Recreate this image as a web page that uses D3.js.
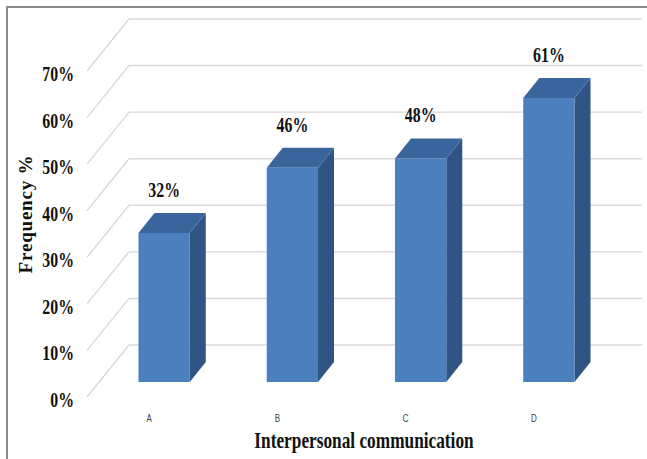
<!DOCTYPE html>
<html>
<head>
<meta charset="utf-8">
<script src="https://cdn.jsdelivr.net/npm/d3@7"></script>
<style>
  html, body { margin: 0; padding: 0; background: #fff; }
  svg { display: block; }
  .serif { font-family: "Liberation Serif", "Times New Roman", serif; font-weight: bold; fill: #111; }
</style>
</head>
<body>
<svg id="chart" width="647" height="459"></svg>
<script>
// Chart data
const categories = ["A", "B", "C", "D"];
const values = [32, 46, 48, 61];          // frequency, %
const tickValues = [0, 10, 20, 30, 40, 50, 60, 70];
const tickLabels = tickValues.map(v => v + "%");
const yTitle = "Frequency %";
const xTitle = "Interpersonal communication";

const svg = d3.select("#chart");
const W = 647, H = 459;

// 3-D layout: back wall plane, bar plane, and side-wall depth
const yBack = d3.scaleLinear().domain([0, 70]).range([345, 19]);
const yBar = d3.scaleLinear().domain([0, 70]).range([382, 56]);
const x = d3.scaleBand().domain(categories).range([100, 613]).paddingInner(0.6).paddingOuter(0.3);
const wallFront = 87, wallBack = 129, wallDrop = 52;
const depthX = 16, depthY = -20;
const squeeze = 0.72;

// Frame
svg.append("path")
  .attr("d", `M7,${H} L7,7 L${W},7`)
  .attr("fill", "none").attr("stroke", "#8a8a8a").attr("stroke-width", 2);

// Gridlines: side-wall diagonals and back-wall horizontals
const grid = svg.append("g").attr("stroke", "#d9d9d9").attr("stroke-width", 1.4).attr("fill", "none");
grid.selectAll("path").data(tickValues).join("path")
  .attr("d", d => `M${wallFront},${yBack(d) + wallDrop} L${wallBack},${yBack(d)} L642,${yBack(d)}`);

// Y tick labels
svg.append("g").selectAll("text").data(tickValues).join("text")
  .attr("class", "serif")
  .attr("font-size", 22)
  .attr("text-anchor", "end")
  .attr("transform", d => `translate(74,${yBack(d) + wallDrop + 10}) scale(${squeeze},1)`)
  .text((d, i) => tickLabels[i]);

// Y axis title
svg.append("text")
  .attr("class", "serif")
  .attr("font-size", 19)
  .attr("letter-spacing", 0.8)
  .attr("text-anchor", "middle")
  .attr("transform", "translate(32,214) rotate(-90)")
  .text(yTitle);

// Bars: front, side and top faces
const bars = svg.append("g").selectAll("g").data(values).join("g");
bars.append("path") // side face
  .attr("fill", "#2f5585")
  .attr("d", (v, i) => {
    const x1 = x(categories[i]) + x.bandwidth(), y0 = yBar(0), y1 = yBar(v);
    return `M${x1},${y0} L${x1},${y1} L${x1 + depthX},${y1 + depthY} L${x1 + depthX},${y0 + depthY} Z`;
  });
bars.append("path") // top face
  .attr("fill", "#3a659c")
  .attr("d", (v, i) => {
    const x0 = x(categories[i]), x1 = x0 + x.bandwidth(), y1 = yBar(v);
    return `M${x0},${y1} L${x1},${y1} L${x1 + depthX},${y1 + depthY} L${x0 + depthX},${y1 + depthY} Z`;
  });
bars.append("rect") // front face
  .attr("fill", "#4c7fbe")
  .attr("x", (v, i) => x(categories[i]))
  .attr("width", x.bandwidth())
  .attr("y", v => yBar(v))
  .attr("height", v => yBar(0) - yBar(v));

// Value labels
bars.append("text")
  .attr("class", "serif")
  .attr("font-size", 22)
  .attr("text-anchor", "middle")
  .attr("transform", (v, i) => `translate(${x(categories[i]) + x.bandwidth() / 2},${yBar(v) + depthY - 16}) scale(${squeeze},1)`)
  .text(v => v + "%");

// Category labels
svg.append("g").selectAll("text").data(categories).join("text")
  .attr("font-family", "Liberation Sans, Arial, sans-serif")
  .attr("font-size", 10)
  .attr("fill", "#404040")
  .attr("text-anchor", "middle")
  .attr("transform", d => `translate(${x(d) + x.bandwidth() / 2 - 15},422) scale(0.8,1)`)
  .text(d => d);

// X axis title
svg.append("text")
  .attr("class", "serif")
  .attr("font-size", 24)
  .attr("text-anchor", "middle")
  .attr("transform", `translate(364,448) scale(${squeeze},1)`)
  .text(xTitle);
</script>
</body>
</html>
